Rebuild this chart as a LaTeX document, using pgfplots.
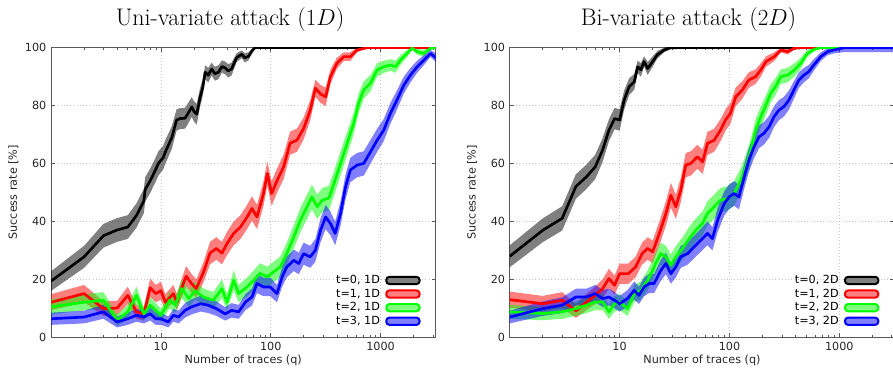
\documentclass[border=0pt]{standalone}
\usepackage{fontspec}
\usepackage{pgfplots}
\usepackage{pgfplotstable}
\pgfplotsset{compat=1.18}
\usepgfplotslibrary{fillbetween}
\newfontfamily\dejavu{DejaVu Sans}
\newcommand{\smallsans}{\dejavu\fontsize{8.4}{10}\selectfont}

% ---------- data: q  s (success rate)  e (half width of band) ----------
\pgfplotstableread{
q s e
1 19.3 3.4
2 27.7 3.8
3 35 4.1
4 37 4.1
5 38 4.1
6 42 4.2
7 47 4.2
7.2 51 4.25
8 54 4.2
9 58 4.2
9.5 60 4.2
10.5 62 4.1
11 64 4.1
12.6 69 3.9
13.9 75 3.7
15 75.5 3.6
16.6 75.6 3.6
17.5 77 3.6
19.1 79.5 3.4
20 78 3.5
21.2 77 3.6
22.8 83 3.2
24 86 2.9
25.3 91.5 2.4
27 90.5 2.5
29 92.6 2.2
31 91 2.4
33.4 91.5 2.4
36 93.5 2.1
38.4 93 2.2
41 92 2.3
44 92.6 2.2
49 96.6 1.5
54.6 97.7 1.3
58 96.5 1.6
62.7 97 1.4
68 99 0.8
72 100 0
3200 100 0
}\LzeroT
\pgfplotstableread{
q s e
1 12 2.8
2 15 3.0
3 9.8 2.5
4 10 2.5
5 14.4 3.0
6 8.7 2.4
7 8 2.3
8 17 3.2
9 15 3.0
10 16 3.1
11 12 2.8
13 15 3.0
14 12 2.8
15.5 17 3.2
17 21 3.5
19 18.5 3.3
21 16.7 3.2
24.5 22.5 3.5
28 29 3.9
32 30.6 3.9
36 29 3.9
40 32.3 4.0
46 35.8 4.1
53 38 4.1
61 41.5 4.2
67.5 44.4 4.2
75 41.5 4.2
86 49.6 4.25
93 56.5 4.2
102 49.6 4.25
114 54 4.2
131 58.8 4.2
150 67 4.0
173 68 4.0
199 72 3.8
229 78.4 3.5
255 86 2.9
284 84 3.1
316 83 3.2
350 90 2.5
400 94.6 1.9
463 96.9 1.5
530 96.9 1.5
610 99.2 0.8
760 100 0
3200 100 0
}\LoneT
\pgfplotstableread{
q s e
1 10.4 2.6
2 12 2.8
3 12.7 2.8
4 5.8 2.0
5 8.7 2.4
6 14.4 3.0
7 8 2.3
8 11 2.7
9 9.2 2.5
10 7.5 2.2
12 12.7 2.8
13.5 11 2.7
15.5 16.7 3.2
18 13.3 2.9
20.5 16 3.1
24.5 13.8 2.9
30 12.7 2.8
36 16.7 3.2
40 12 2.8
46 19.6 3.4
51 15 3.0
61 17.3 3.2
70 19.6 3.4
80 22 3.5
93 20.8 3.5
106 22.5 3.5
122 24.2 3.6
140 28.8 3.8
162 34.6 4.0
186 40.4 4.2
214 45 4.2
237 48.4 4.25
265 45 4.2
294 47.3 4.2
338 48 4.25
376 53 4.2
432 60 4.2
496 66.9 4.0
569 73.8 3.7
630 80.7 3.4
703 85.4 3.0
809 87.7 2.8
930 92.3 2.3
1068 93.4 2.1
1228 94 2.0
1366 93.4 2.1
1517 95.7 1.7
1745 98 1.2
1940 99.8 0.4
2150 98.6 1.0
2480 98 1.2
2850 99.8 0.4
3240 100 0
}\LtwoT
\pgfplotstableread{
q s e
1 6.3 2.1
2 6.9 2.2
3 8.7 2.4
4 5.2 1.9
5 6.3 2.1
6 7.5 2.2
7 6.9 2.2
8 8 2.3
9 6.3 2.1
10 6.3 2.1
11.7 5.2 1.9
13 7.5 2.2
14.5 6.9 2.2
16.6 9.2 2.5
19 10.4 2.6
23 11.5 2.7
27 11 2.7
32 9.8 2.5
38.5 8 2.3
44 9.2 2.5
51 8.7 2.4
59 12.1 2.8
67.5 13.8 2.9
75 18.5 3.3
86 17.3 3.2
99 17.3 3.2
114 15 3.0
127 20.8 3.4
140 24.2 3.6
162 26.5 3.7
180 25.4 3.7
199 28.8 3.8
229 27.7 3.8
255 30 3.9
284 36.9 4.1
316 41.5 4.2
350 39.2 4.1
386 35.8 4.1
432 42.7 4.2
480 51.9 4.25
530 57.7 4.2
610 59.4 4.2
703 60 4.2
809 64 4.1
930 68 4.0
1068 71.5 3.8
1228 77.3 3.6
1410 81.9 3.3
1625 87 2.9
1870 90.5 2.5
2150 93.4 2.1
2480 95.7 1.7
2850 98 1.2
3240 96.3 1.6
}\LthreeT
% ---------- bi-variate ----------
\pgfplotstableread{
q s e
1 27.9 3.8
2 36.9 4.1
3 41 4.2
4 52 4.25
5 55.4 4.2
6 58.8 4.2
7 64.6 4.1
8 71.5 3.8
9 75.5 3.7
10 75 3.7
11 81.9 3.3
12.2 86.5 2.9
13.6 88.2 2.7
14.6 93.4 2.1
15.6 92.3 2.3
16.7 95.2 1.8
18 92.8 2.2
20 95.2 1.8
22 97.5 1.3
25.4 99.2 0.8
29 100 0.6
60 100 0.3
3200 100 0
}\RzeroT
\pgfplotstableread{
q s e
1 12.9 2.8
2 11.5 2.7
3 12.7 2.8
4 9 2.4
5 12.1 2.8
6 14.4 3.0
7 16.7 3.2
8 20.2 3.4
9 17.9 3.3
10 21.9 3.5
12 21.9 3.5
14 24.2 3.6
16 28.8 3.8
18 30.6 3.9
20 29.4 3.9
23 35.8 4.1
26.4 42.7 4.2
29.3 49 4.25
32.5 45 4.2
36 50.7 4.25
40 59.4 4.2
44.5 60 4.2
51 62.3 4.1
57 60.5 4.2
63 66.9 4.0
72.5 68 4.0
83 71.5 3.8
92 75 3.7
102 77.3 3.6
114 83 3.2
131 85.4 3.0
150 88.8 2.7
173 90 2.5
193 92.3 2.3
215 95.2 1.8
256 96.9 1.5
294 99.2 0.8
338 98.6 1.0
390 99.8 0.4
480 100 0
3200 100 0
}\RoneT
\pgfplotstableread{
q s e
1 8.7 2.4
2 8.1 2.3
3 8.7 2.4
4 9.8 2.5
5 11 2.7
6 12.1 2.8
7 12.1 2.8
8 8.7 2.4
9 11.5 2.7
10 12.1 2.8
11.8 9.8 2.5
13.6 15 3.0
15.6 16.1 3.1
18 19.6 3.4
20 23 3.6
21.3 25.4 3.7
23.7 28.8 3.8
26.4 27.7 3.8
29.3 24.8 3.7
32.5 27.7 3.8
37.4 30.6 3.9
43 34 4.0
49.4 36.9 4.1
56.8 39.2 4.1
63 42.7 4.2
72.5 45 4.2
83 47.3 4.2
95.7 47.9 4.25
110 49.6 4.25
127 54.2 4.2
141 58.8 4.2
157 64.6 4.1
173 71.5 3.8
193 76.1 3.6
215 80.2 3.4
237 84.2 3.1
262 86.5 2.9
294 90 2.5
338 90.5 2.5
390 92.3 2.3
445 94.6 1.9
512 98 1.2
590 99.4 0.7
678 100 0.3
3200 100 0
}\RtwoT
\pgfplotstableread{
q s e
1 6.9 2.2
2 9.8 2.5
3 11 2.7
4 13.8 2.9
5 13.8 2.9
6 15 3.0
7 13.3 2.9
8 13.8 2.9
9 12.7 2.8
10 11.5 2.7
11.8 13.3 2.9
13.6 16.1 3.1
15 14.4 3.0
16.7 17.3 3.2
18.6 18.5 3.3
20.6 18.5 3.3
23.7 23 3.6
26.4 25.4 3.7
29.3 21.9 3.5
32.5 24.2 3.6
36 27.7 3.8
41.5 28.8 3.8
47.6 31.1 3.9
54.7 33.4 4.0
63 35.8 4.1
70 34 4.0
78 40.4 4.2
89.5 46.1 4.2
99 48.4 4.25
110 49.6 4.25
122 48.4 4.25
136 55.4 4.2
150 61.1 4.1
167 65.7 4.0
186 69.2 3.9
206 70.4 3.9
230 72.7 3.8
254 76.1 3.6
282 78.4 3.5
313 79.6 3.4
348 81.9 3.3
386 85.4 3.0
428 88.8 2.7
475 90.5 2.5
527 91.7 2.3
585 94 2.0
678 96.9 1.5
780 98.6 1.2
890 99.2 1.2
1110 100 1.5
3200 100 1.5
}\RthreeT

\newcommand{\band}[3]{%
  \addplot[draw=none, name path=#3u, forget plot] table[x=q, y expr=\thisrow{s}+\thisrow{e}] {#1};
  \addplot[draw=none, name path=#3l, forget plot] table[x=q, y expr=\thisrow{s}-\thisrow{e}] {#1};
  \addplot[fill=#2, fill opacity=0.5, draw=none, forget plot] fill between[of=#3u and #3l];
}
\newcommand{\curve}[2]{%
  \addplot[color=#2, line width=2pt, line join=round,
    legend image code/.code={%
      \draw[line width=1.5pt, rounded corners=2.3pt, draw=#2, fill=#2!50]
        (0pt,-2.7pt) rectangle (25pt,2.7pt);}] table[x=q, y=s] {#1};
}
\newcommand{\beginsrax}[1]{%
\begin{axis}[
    at={#1}, anchor=south west,
    scale only axis, width=288.4pt, height=217pt,
    xmode=log, xmin=1, xmax=3162, ymin=0, ymax=100,
    xtick={10,100,1000}, xticklabels={10,100,1000},
    minor xtick={2,3,4,5,6,7,8,9,20,30,40,50,60,70,80,90,200,300,400,500,600,700,800,900,2000,3000},
    ytick={0,20,40,60,80,100},
    tick align=inside, major tick length=3pt, minor tick length=1.6pt,
    axis line style={black!65, line width=0.6pt},
    tick style={black!65, line width=0.5pt},
    xmajorgrids, ymajorgrids, major grid style={dotted, black!22, line width=0.5pt},
    /pgf/number format/assume math mode=true,
    tick label style={font=\smallsans, text=black!85},
    xlabel style={font=\smallsans, text=black!85, yshift=3pt},
    ylabel style={font=\smallsans, text=black!85, yshift=-2pt},
    xlabel={Number of traces (q)}, ylabel={Success rate [\%]},
    legend cell align=right, legend plot pos=right,
    legend style={draw=none, fill=none, at={(1,0)}, anchor=south east,
      xshift=-8pt, yshift=4.5pt, font=\smallsans, row sep=0pt, column sep=3pt,
      nodes={inner sep=1pt, text height=6.4pt, text depth=1.8pt}},
  ]}

\begin{document}
\begin{tikzpicture}

\node[anchor=base, font=\fontsize{18}{20}\selectfont] at (172.5pt,264.5pt) {Uni-variate attack ($1D$)};
\node[anchor=base, font=\fontsize{18}{20}\selectfont] at (516.4pt,264.5pt) {Bi-variate attack ($2D$)};

\beginsrax{(38.25pt,30.75pt)}
  \band{\LzeroT}{black}{a}
  \curve{\LzeroT}{black}
  \band{\LoneT}{red}{b}
  \curve{\LoneT}{red}
  \band{\LtwoT}{green}{c}
  \curve{\LtwoT}{green}
  \band{\LthreeT}{blue}{d}
  \curve{\LthreeT}{blue}
  \legend{{t=0, 1D},{t=1, 1D},{t=2, 1D},{t=3, 1D}}
\end{axis}

\beginsrax{(382.3pt,30.75pt)}
  \band{\RzeroT}{black}{e}
  \curve{\RzeroT}{black}
  \band{\RoneT}{red}{f}
  \curve{\RoneT}{red}
  \band{\RtwoT}{green}{g}
  \curve{\RtwoT}{green}
  \band{\RthreeT}{blue}{h}
  \curve{\RthreeT}{blue}
  \legend{{t=0, 2D},{t=1, 2D},{t=2, 2D},{t=3, 2D}}
\end{axis}

\pgfresetboundingbox
\path[use as bounding box] (0pt,0pt) rectangle (669.75pt,283.5pt);
\end{tikzpicture}
\end{document}
